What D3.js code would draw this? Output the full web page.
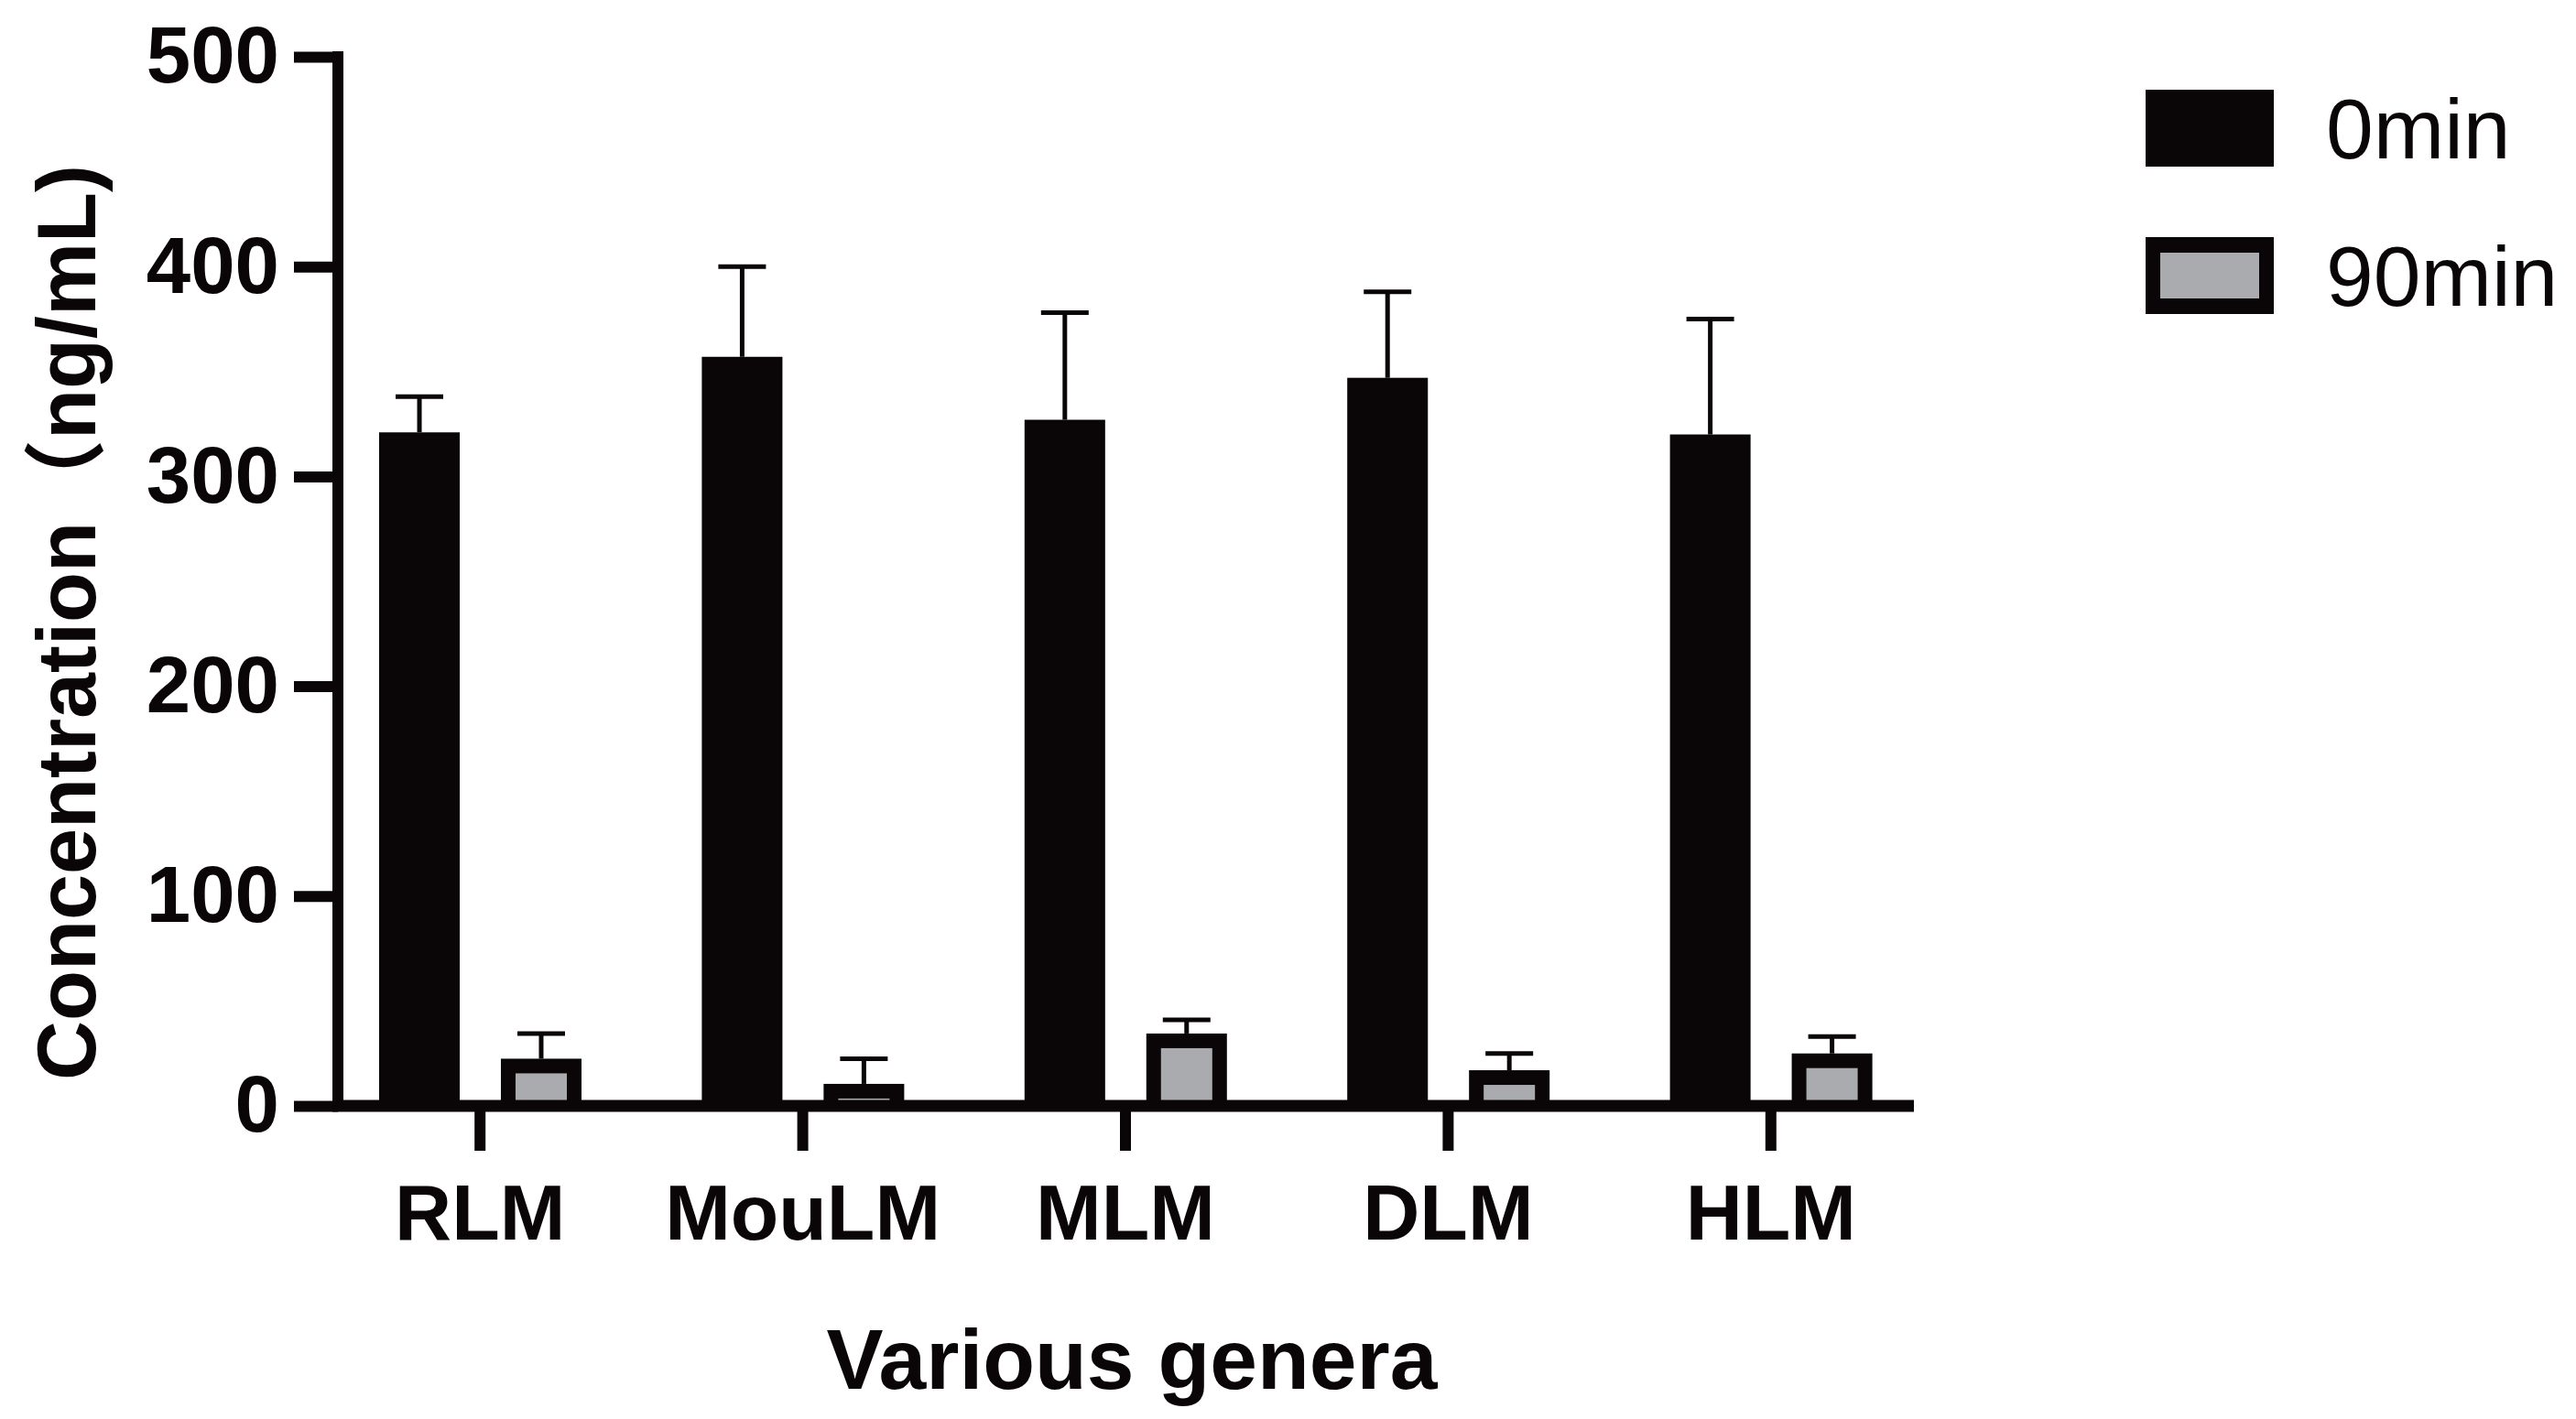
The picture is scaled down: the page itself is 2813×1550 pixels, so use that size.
<!DOCTYPE html>
<html>
<head>
<meta charset="utf-8">
<script src="https://cdn.jsdelivr.net/npm/d3@7"></script>
<style>
  html, body { margin: 0; padding: 0; background: #fff; }
  svg { display: block; }
  text { font-family: "Liberation Sans", Arial, "Noto Sans CJK SC", sans-serif; fill: #0a0607; }
</style>
</head>
<body>
<svg id="chart"></svg>
<script>
const categories = ["RLM", "MouLM", "MLM", "DLM", "HLM"];
const seriesNames = ["0min", "90min"];
const mean0 = [321, 357, 327, 347, 320];
const sd0 = [17, 43, 51, 41, 55];
const mean90 = [22.5, 10.5, 34.5, 17, 25];
const sd90 = [12, 12, 6.5, 8, 8];
const yTicks = [0, 100, 200, 300, 400, 500];

const width = 2813;
const height = 1550;
const ink = "#0a0607";
const grayFill = "#aaabaf";

const svg = d3.select("#chart")
  .attr("width", width)
  .attr("height", height);

const yScale = d3.scaleLinear()
  .domain([0, 500])
  .range([1208, 62]);

const x0 = d3.scaleBand()
  .domain(categories)
  .range([348, 2110]);

const x1 = d3.scaleBand()
  .domain(seriesNames)
  .range([66, 287])
  .paddingInner(0.338);

const axisX = 369;
const axisRight = 2090;

// rows per category
const rows = categories.map((c, i) => ({
  cat: c,
  values: [
    { key: "0min", mean: mean0[i], sd: sd0[i] },
    { key: "90min", mean: mean90[i], sd: sd90[i] }
  ]
}));

const groups = svg.append("g")
  .selectAll("g.group")
  .data(rows)
  .enter()
  .append("g")
  .attr("class", "group")
  .attr("transform", d => `translate(${x0(d.cat)},0)`);

// error bars (drawn first so bars cover the stems)
groups.selectAll("g.err")
  .data(d => d.values)
  .enter()
  .append("g")
  .attr("class", "err")
  .each(function (d) {
    const g = d3.select(this);
    const cx = x1(d.key) + x1.bandwidth() / 2;
    g.append("line")
      .attr("x1", cx).attr("x2", cx)
      .attr("y1", yScale(d.mean)).attr("y2", yScale(d.mean + d.sd))
      .attr("stroke", ink).attr("stroke-width", 5);
    g.append("line")
      .attr("x1", cx - 26).attr("x2", cx + 26)
      .attr("y1", yScale(d.mean + d.sd)).attr("y2", yScale(d.mean + d.sd))
      .attr("stroke", ink).attr("stroke-width", 5);
  });

// bars
groups.selectAll("rect.bar")
  .data(d => d.values)
  .enter()
  .append("rect")
  .attr("class", "bar")
  .attr("x", d => x1(d.key))
  .attr("y", d => yScale(d.mean))
  .attr("width", x1.bandwidth())
  .attr("height", d => yScale(0) - yScale(d.mean))
  .attr("fill", ink);

// grey inner fill of the 90min bars (thick black border)
const border = 16;
groups.selectAll("rect.inner")
  .data(d => d.values.filter(v => v.key === "90min"))
  .enter()
  .append("rect")
  .attr("class", "inner")
  .attr("x", d => x1(d.key) + border)
  .attr("y", d => yScale(d.mean) + border)
  .attr("width", x1.bandwidth() - 2 * border)
  .attr("height", d => Math.max(0, yScale(0) - yScale(d.mean) - border))
  .attr("fill", grayFill);

// y axis
const yAxis = d3.axisLeft(yScale)
  .tickValues(yTicks)
  .tickSize(48)
  .tickSizeOuter(0)
  .tickPadding(16);

const yG = svg.append("g")
  .attr("transform", `translate(${axisX},0)`)
  .call(yAxis);
yG.select(".domain").remove();
yG.selectAll(".tick line").attr("stroke", ink).attr("stroke-width", 12);
yG.selectAll(".tick text")
  .attr("font-size", 87)
  .attr("font-weight", "bold")
  .attr("font-family", "'Liberation Sans', Arial, sans-serif")
  .attr("fill", ink);

svg.append("line")
  .attr("x1", axisX).attr("x2", axisX)
  .attr("y1", yScale(500) - 6).attr("y2", yScale(0))
  .attr("stroke", ink).attr("stroke-width", 12);

// x axis
const xAxis = d3.axisBottom(x0)
  .tickSize(49)
  .tickSizeOuter(0)
  .tickPadding(36);

const xG = svg.append("g")
  .attr("transform", `translate(0,${yScale(0)})`)
  .call(xAxis);
xG.select(".domain").remove();
xG.selectAll(".tick line").attr("stroke", ink).attr("stroke-width", 12);
xG.selectAll(".tick text")
  .attr("font-size", 86)
  .attr("font-weight", "bold")
  .attr("font-family", "'Liberation Sans', Arial, sans-serif")
  .attr("fill", ink);

svg.append("line")
  .attr("x1", axisX - 6).attr("x2", axisRight)
  .attr("y1", yScale(0)).attr("y2", yScale(0))
  .attr("stroke", ink).attr("stroke-width", 13);

// axis titles
svg.append("text")
  .attr("x", 1236)
  .attr("y", 1517)
  .attr("text-anchor", "middle")
  .attr("font-size", 93)
  .attr("font-weight", "bold")
  .text("Various genera");

svg.append("text")
  .attr("transform", `translate(104,${(yScale(0) + yScale(500)) / 2 + 45}) rotate(-90)`)
  .attr("text-anchor", "middle")
  .attr("font-size", 90)
  .attr("font-weight", "bold")
  .text("Concentration（ng/mL)");

// legend
const legend = svg.append("g")
  .attr("transform", "translate(2343,98)");

const legendItems = legend.selectAll("g.item")
  .data(seriesNames)
  .enter()
  .append("g")
  .attr("class", "item")
  .attr("transform", (d, i) => `translate(0,${i * 161})`);

legendItems.append("rect")
  .attr("width", 140)
  .attr("height", 84)
  .attr("fill", ink);

legendItems.filter(d => d === "90min")
  .append("rect")
  .attr("x", 16).attr("y", 17)
  .attr("width", 140 - 32)
  .attr("height", 84 - 34)
  .attr("fill", grayFill);

legendItems.append("text")
  .attr("x", 197)
  .attr("y", 75)
  .attr("font-size", 93)
  .text(d => d);
</script>
</body>
</html>
